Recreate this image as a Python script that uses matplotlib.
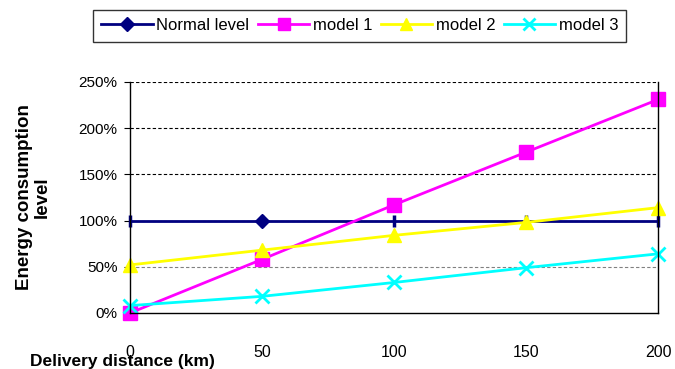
import matplotlib
matplotlib.use("Agg")
import matplotlib.pyplot as plt
from matplotlib.ticker import FuncFormatter
from matplotlib.lines import Line2D

plt.rcParams['font.family'] = ['Liberation Sans', 'DejaVu Sans']

distance = [0, 50, 100, 150, 200]
normal = [100, 100, 100, 100, 100]
model1 = [0, 58, 117, 174, 231]
model2 = [52, 68, 84, 98, 114]
model3 = [8, 18, 33, 49, 64]
labels = ["Normal level", "model 1", "model 2", "model 3"]

fig = plt.figure(figsize=(6.75, 3.69), dpi=100)
ax = fig.add_axes([0.1926, 0.1518, 0.7824, 0.6262])

lw = 2
ax.plot(distance, normal, color='#000080', lw=lw, marker='|', ms=9, mew=2.5, clip_on=False)
ax.plot([distance[1]], [normal[1]], color='#000080', lw=0, marker='D', ms=7, clip_on=False)
ax.plot(distance, model1, color='#FF00FF', lw=lw, marker='s', ms=10, clip_on=False)
ax.plot(distance, model2, color='#FFFF00', lw=lw, marker='^', ms=10, clip_on=False)
ax.plot(distance, model3, color='#00FFFF', lw=lw, marker='x', ms=10, mew=2, clip_on=False)

ax.set_xlim(0, 200)
ax.set_ylim(0, 250)
ax.set_xticks(distance)
ax.set_yticks([0, 50, 100, 150, 200, 250])
ax.yaxis.set_major_formatter(FuncFormatter(lambda v, p: f"{int(v)}%"))
for y in [100, 150, 200, 250]:
    ax.axhline(y, color='black', lw=0.8, ls=(0, (3, 2)), zorder=0)
ax.axhline(50, color='#808080', lw=0.8, ls=(0, (3, 2)), zorder=0)

for s in ax.spines.values():
    s.set_color('black')
    s.set_linewidth(1)
ax.spines['top'].set_visible(False)
ax.tick_params(axis='x', length=0, pad=23, labelsize=11.5)
ax.tick_params(axis='y', length=4, labelsize=11, direction='out', pad=5)

fig.text(0.044, 0.0, "Delivery distance (km)", fontsize=12.5, fontweight='bold',
         ha='left', va='bottom')
fig.text(0.05, 0.466, "Energy consumption\nlevel", fontsize=13.5, fontweight='bold', rotation=90,
         ha='center', va='center', multialignment='center', linespacing=1.05)

handles = [
    Line2D([], [], color='#000080', lw=lw, marker='D', ms=7),
    Line2D([], [], color='#FF00FF', lw=lw, marker='s', ms=9),
    Line2D([], [], color='#FFFF00', lw=lw, marker='^', ms=9),
    Line2D([], [], color='#00FFFF', lw=lw, marker='x', ms=9, mew=2),
]
leg = fig.legend(handles, labels, loc='upper left', bbox_to_anchor=(0.138, 0.973), ncol=4,
                 frameon=True, fancybox=False, edgecolor='black', fontsize=12,
                 handlelength=3.1, columnspacing=0.5, handletextpad=0.2, borderpad=0.5,
                 borderaxespad=0)
leg.get_frame().set_linewidth(1)

fig.savefig("out.png", dpi=100)
